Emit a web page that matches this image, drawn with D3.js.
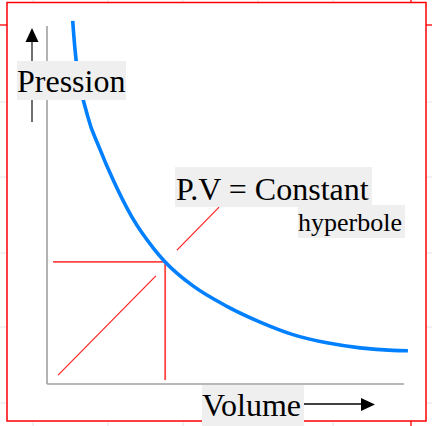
<!DOCTYPE html>
<html><head><meta charset="utf-8">
<script src="https://cdn.jsdelivr.net/npm/d3@7"></script>
<style>html,body{margin:0;padding:0;background:#fff;}svg{display:block;}
.lbl{font-family:"Liberation Serif","Times New Roman",Times,serif;}</style>
</head><body>
<script>
// Hyperbola P.V = constant (V, P in axis units 0..100)
const volume   = [7.2, 7.8, 11.3, 14.7, 18.8, 23.8, 30.0, 33.1, 40.9, 50.4, 59.7, 68.9, 78.4, 87.7, 96.9, 101.1];
const pression = [101.4, 93.9, 75.1, 65.9, 56.4, 46.6, 37.7, 34.1, 27.4, 21.7, 17.3, 13.8, 11.5, 10.1, 9.4, 9.3];
// Marked point on the curve
const markV = [33.1];
const markP = [34.1];
const labels = ["Pression", "Volume", "P.V = Constant", "hyperbole"];

const W = 432, H = 426;
const svg = d3.select("body").append("svg").attr("width", W).attr("height", H);

// page background: faint grid, red margin lines, white frame
const bg = svg.append("g");
[102,177,253,327,403].forEach(y => bg.append("line").attr("x1",0).attr("x2",W).attr("y1",y).attr("y2",y).attr("stroke","#e4e4e4").attr("stroke-width",1));
[33,108,183,258,333].forEach(x => bg.append("line").attr("x1",x).attr("x2",x).attr("y1",0).attr("y2",H).attr("stroke","#e4e4e4").attr("stroke-width",1));
bg.append("line").attr("x1",0).attr("x2",W).attr("y1",25).attr("y2",25).attr("stroke","#ff2020").attr("stroke-width",1.5);
bg.append("line").attr("x1",411).attr("x2",411).attr("y1",0).attr("y2",H).attr("stroke","#ff2020").attr("stroke-width",1.5);
bg.append("rect").attr("x",7).attr("y",2.5).attr("width",419).attr("height",418.5)
  .attr("fill","#fff").attr("stroke","#ff0000").attr("stroke-width",1.5);

const x = d3.scaleLinear().domain([0, 100]).range([47, 404]);
const y = d3.scaleLinear().domain([0, 100]).range([384, 26]);

// axes (plain lines)
const axis = svg.append("g").attr("stroke","#a0a0a0").attr("stroke-width",1.6);
axis.append("line").attr("x1",x(0)).attr("x2",x(0)).attr("y1",y(100)).attr("y2",y(0));
axis.append("line").attr("x1",x(0)).attr("x2",x(100)).attr("y1",y(0)).attr("y2",y(0));

// red construction lines
const red = svg.append("g").attr("stroke","#ff4444").attr("fill","none");
const mx = x(markV[0]), my = y(markP[0]);
red.append("line").attr("x1",x(1.7)).attr("x2",mx).attr("y1",my).attr("y2",my).attr("stroke-width",1.8);
red.append("line").attr("x1",mx).attr("x2",mx).attr("y1",my).attr("y2",y(1.1)).attr("stroke-width",1.8);
red.append("line").attr("x1",x(3.1)).attr("y1",y(2.5)).attr("x2",x(30.5)).attr("y2",y(30.2)).attr("stroke","#ff2020").attr("stroke-width",1.2);
red.append("line").attr("x1",x(36.4)).attr("y1",y(37.4)).attr("x2",x(48.2)).attr("y2",y(49.4)).attr("stroke","#ff2020").attr("stroke-width",1.2);

// hyperbola
const pts = volume.map((v, i) => [v, pression[i]]);
svg.append("path").datum(pts)
  .attr("fill","none").attr("stroke","#0080ff").attr("stroke-width",3.6)
  .attr("d", d3.line().x(d => x(d[0])).y(d => y(d[1])).curve(d3.curveMonotoneX));

// arrows
svg.append("line").attr("x1",32).attr("x2",32).attr("y1",40).attr("y2",122).attr("stroke","#222").attr("stroke-width",1.3);
svg.append("path").attr("d","M32,28 L38.5,42 L25.5,42 Z").attr("fill","#000");
svg.append("line").attr("x1",300).attr("x2",363).attr("y1",404).attr("y2",404).attr("stroke","#000").attr("stroke-width",1.3);
svg.append("path").attr("d","M375,404.5 L361,398 L361,411 Z").attr("fill","#000");

// labels with light backgrounds
function label(txt, tx, ty, size, rx0, ry0, rx1, ry1) {
  const g = svg.append("g");
  g.append("rect").attr("x",rx0).attr("y",ry0).attr("width",rx1-rx0).attr("height",ry1-ry0).attr("fill","#efefef");
  g.append("text").attr("class","lbl").attr("x",tx).attr("y",ty)
    .style("font-size", size + "px").attr("fill","#000").text(txt);
}
label(labels[0], 17, 92, 32, 17, 61, 126, 100);
label(labels[2], 176, 200, 32, 175, 167, 372, 207);
label(labels[3], 298, 231, 26, 298, 205, 405, 238);
label(labels[1], 202, 416, 32, 202, 385, 304, 426);
</script>
</body></html>
